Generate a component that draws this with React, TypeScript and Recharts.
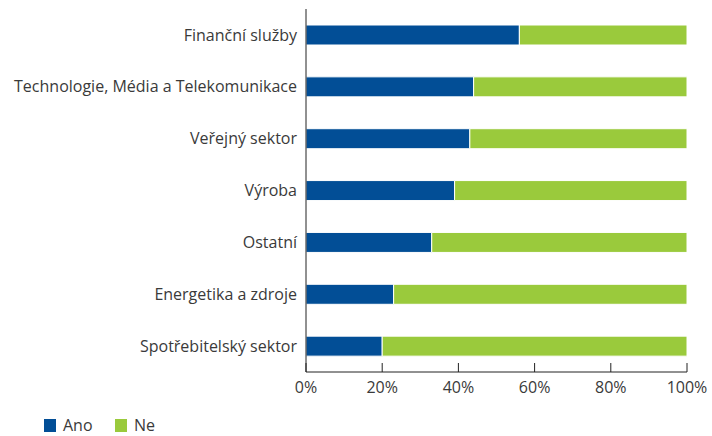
import { Bar, BarChart, Legend, XAxis, YAxis } from "recharts";

const categories = [
  "Finanční služby",
  "Technologie, Média a Telekomunikace",
  "Veřejný sektor",
  "Výroba",
  "Ostatní",
  "Energetika a zdroje",
  "Spotřebitelský sektor",
];
const ano = [56, 44, 43, 39, 33, 23, 20];
const ne = [44, 56, 57, 61, 67, 77, 80];
const xTicks = [0, 20, 40, 60, 80, 100];

const BLUE = "#024e96";
const GREEN = "#9aca3c";
const TEXT = "#3a3a3a";
const FONT = "'Open Sans', sans-serif";

const data = categories.map((name, i) => ({ name, ano: ano[i], ne: ne[i] }));

function PercentTick({ x, y, payload }: any) {
  return (
    <g>
      <line x1={x} x2={x} y1={y} y2={y - 9} stroke="#222" strokeWidth={1} />
      <text x={x} y={y + 21} textAnchor="middle" fontSize={16} fill={TEXT} fontFamily={FONT}>
        {payload.value}%
      </text>
    </g>
  );
}

function LegendBox() {
  const items = [
    { label: "Ano", color: BLUE },
    { label: "Ne", color: GREEN },
  ];
  return (
    <div
      style={{
        display: "flex",
        paddingLeft: 44,
        paddingTop: 10,
        fontFamily: FONT,
        fontSize: 16,
        lineHeight: "18px",
        color: TEXT,
      }}
    >
      {items.map((it) => (
        <div key={it.label} style={{ display: "flex", alignItems: "center", width: 71 }}>
          <span style={{ width: 12, height: 13, background: it.color, marginRight: 7, display: "inline-block" }} />
          {it.label}
        </div>
      ))}
    </div>
  );
}

export default function App() {
  return (
    <div style={{ position: "absolute", left: 0, top: 0, background: "#fff" }}>
      <BarChart
        width={712}
        height={436}
        data={data}
        layout="vertical"
        margin={{ top: 9, right: 25, left: 0, bottom: 0 }}
        barCategoryGap={16}
      >
        <XAxis
          type="number"
          domain={[0, 100]}
          ticks={xTicks}
          tickLine={false}
          tickSize={0}
          tickMargin={0}
          height={34}
          axisLine={{ stroke: "#222" }}
          tick={<PercentTick />}
          interval={0}
        />
        <YAxis
          type="category"
          dataKey="name"
          width={306}
          tickLine={false}
          tickSize={0}
          tickMargin={9}
          axisLine={{ stroke: "#222" }}
          tick={{ fontSize: 16, fill: TEXT, fontFamily: FONT }}
          interval={0}
        />
        <Legend verticalAlign="bottom" align="left" height={30} content={<LegendBox />} />
        <Bar dataKey="ano" name="Ano" stackId="a" fill={BLUE} stroke="#fff" strokeWidth={1} barSize={20} isAnimationActive={false} />
        <Bar dataKey="ne" name="Ne" stackId="a" fill={GREEN} stroke="#fff" strokeWidth={1} barSize={20} isAnimationActive={false} />
      </BarChart>
    </div>
  );
}
